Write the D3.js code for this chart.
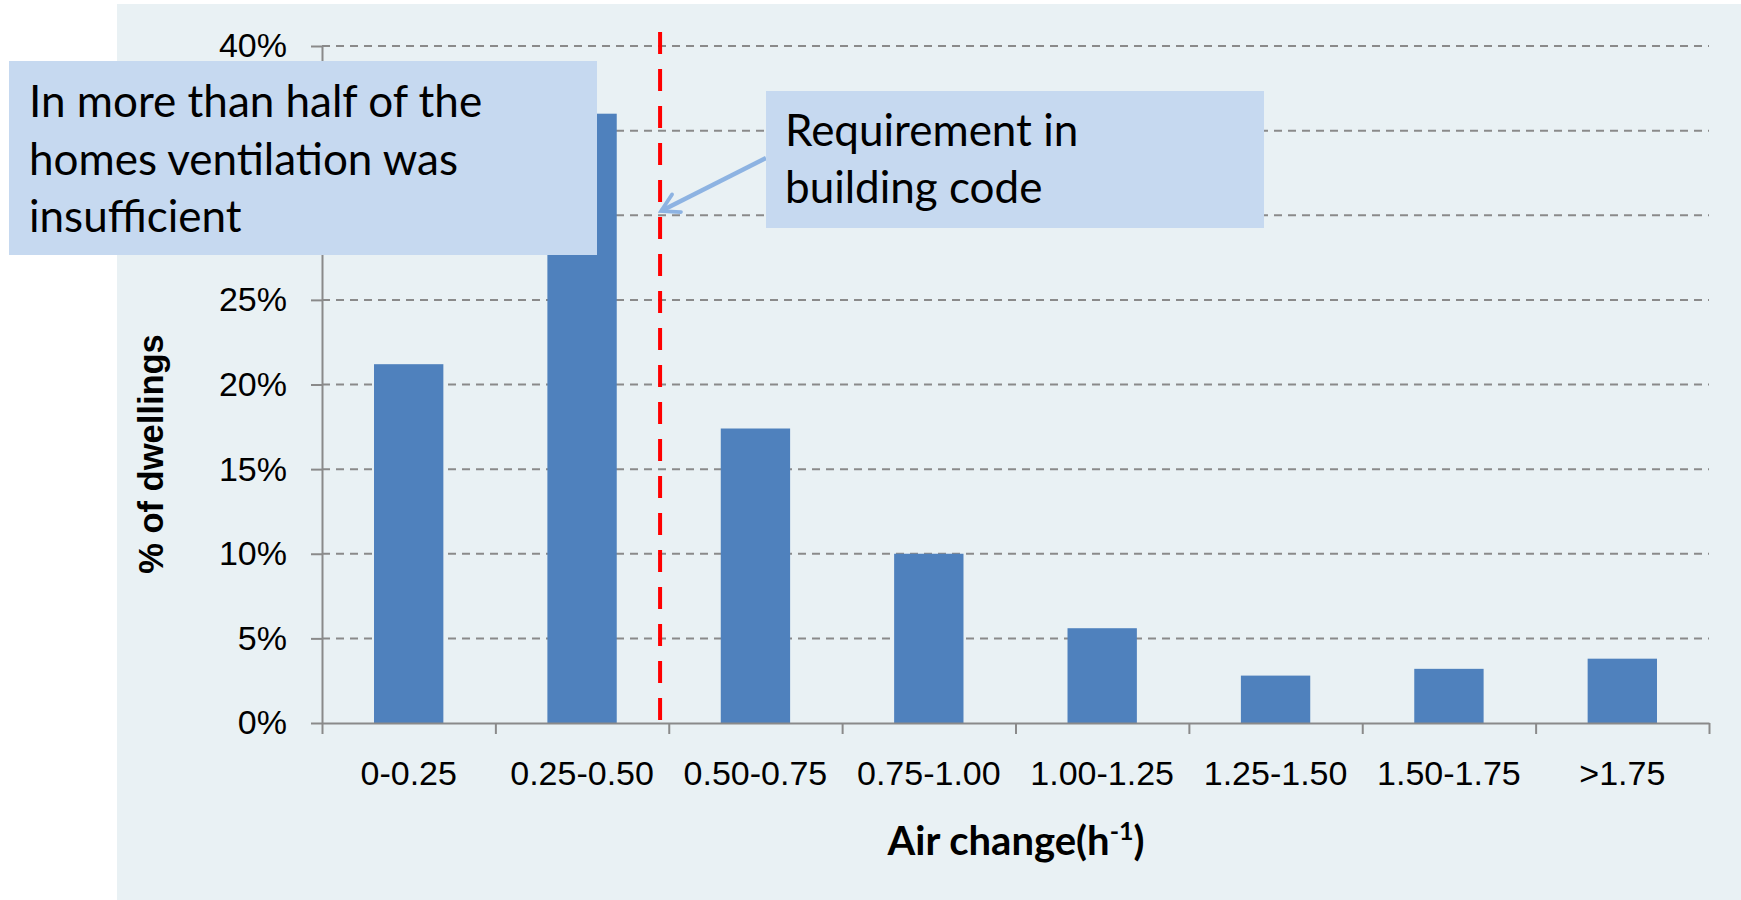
<!DOCTYPE html>
<html>
<head>
<meta charset="utf-8">
<script src="https://cdn.jsdelivr.net/npm/d3@7"></script>
<style>
  body { margin: 0; background: #ffffff; }
  svg { display: block; }
</style>
</head>
<body>
<script>
const width = 1741;
const height = 900;

// data
const categories = ["0-0.25", "0.25-0.50", "0.50-0.75", "0.75-1.00", "1.00-1.25", "1.25-1.50", "1.50-1.75", ">1.75"];
const shares = [21.2, 36.0, 17.4, 10.0, 5.6, 2.8, 3.2, 3.8];
const yTicks = [0, 5, 10, 15, 20, 25, 30, 35, 40];
const requirementBin = 1.95; // where the dashed red line sits, in bins along x

const noteLeft = ["In more than half of the", "homes ventilation was", "insufficient"];
const noteRight = ["Requirement in", "building code"];

// plot area
const plotLeft = 322, plotRight = 1709, plotTop = 46, plotBottom = 723;

const svg = d3.select("body").append("svg")
    .attr("width", width)
    .attr("height", height);

// panel background
svg.append("rect")
    .attr("x", 117).attr("y", 4)
    .attr("width", width - 117).attr("height", height - 4)
    .attr("fill", "#e9f1f4");

const x = d3.scaleBand()
    .domain(categories)
    .range([plotLeft, plotRight])
    .paddingInner(0.6)
    .paddingOuter(0.3);

const xBins = d3.scaleLinear()
    .domain([0, categories.length])
    .range([plotLeft, plotRight]);

const y = d3.scaleLinear()
    .domain([0, 40])
    .range([plotBottom, plotTop]);

// gridlines
svg.append("g")
    .selectAll("line")
    .data(yTicks.filter(d => d > 0))
    .join("line")
    .attr("x1", plotLeft)
    .attr("x2", plotRight)
    .attr("y1", d => y(d))
    .attr("y2", d => y(d))
    .attr("stroke", "#8a8a8a")
    .attr("stroke-width", 2)
    .attr("stroke-dasharray", "8,6");

// y axis
const yAxis = svg.append("g")
    .attr("transform", `translate(${plotLeft},0)`)
    .call(d3.axisLeft(y).tickValues(yTicks).tickFormat(d => d + "%").tickSize(11).tickPadding(24).tickSizeOuter(0));
yAxis.select(".domain").attr("stroke", "#8a8a8a").attr("stroke-width", 2);
yAxis.selectAll(".tick line").attr("stroke", "#8a8a8a").attr("stroke-width", 2);
yAxis.selectAll(".tick text")
    .attr("font-family", "'Liberation Sans', Arial, sans-serif")
    .attr("font-size", 34)
    .attr("fill", "#000");

// bars
svg.append("g")
    .selectAll("rect")
    .data(categories)
    .join("rect")
    .attr("x", d => x(d))
    .attr("width", x.bandwidth())
    .attr("y", (d, i) => y(shares[i]))
    .attr("height", (d, i) => y(0) - y(shares[i]))
    .attr("fill", "#4f81bd");

// x axis: ticks on the bin edges
const xAxis = svg.append("g")
    .attr("transform", `translate(0,${plotBottom})`)
    .call(d3.axisBottom(xBins).tickValues(d3.range(categories.length + 1)).tickFormat("").tickSize(11).tickSizeOuter(0));
xAxis.select(".domain").attr("stroke", "#8a8a8a").attr("stroke-width", 2);
xAxis.selectAll(".tick line").attr("stroke", "#8a8a8a").attr("stroke-width", 2);

// x labels
const xLabels = svg.append("g")
    .attr("transform", `translate(0,${plotBottom})`)
    .call(d3.axisBottom(x).tickSize(0).tickPadding(38));
xLabels.select(".domain").remove();
xLabels.selectAll(".tick text")
    .attr("font-family", "'Liberation Sans', Arial, sans-serif")
    .attr("font-size", 34)
    .attr("fill", "#000");

// requirement line
svg.append("line")
    .attr("x1", xBins(requirementBin))
    .attr("x2", xBins(requirementBin))
    .attr("y1", 32)
    .attr("y2", plotBottom + 3)
    .attr("stroke", "#ff0000")
    .attr("stroke-width", 4)
    .attr("stroke-dasharray", "22,15");

// axis titles
svg.append("text")
    .attr("transform", `translate(163,454) rotate(-90)`)
    .attr("text-anchor", "middle")
    .attr("font-family", "'Liberation Sans', Arial, sans-serif")
    .attr("font-weight", "bold")
    .attr("font-size", 34.5)
    .text("% of dwellings");

const xt = svg.append("text")
    .attr("x", 1016)
    .attr("y", 855)
    .attr("text-anchor", "middle")
    .attr("font-family", "Lato, 'Open Sans', sans-serif")
    .attr("font-weight", "bold")
    .attr("font-size", 40);
xt.append("tspan").text("Air change(h");
xt.append("tspan").attr("font-size", 25).attr("dy", -15).text("-1");
xt.append("tspan").attr("dy", 15).text(")");

// left note
svg.append("rect")
    .attr("x", 9).attr("y", 61)
    .attr("width", 588).attr("height", 194)
    .attr("fill", "#c6d9f0");
svg.append("g")
    .selectAll("text")
    .data(noteLeft)
    .join("text")
    .attr("x", 29)
    .attr("y", (d, i) => 117 + i * 57.5)
    .attr("font-family", "Lato, 'Open Sans', sans-serif")
    .attr("font-size", 44)
    .attr("fill", "#000")
    .text(d => d);

// arrow from right note to the requirement line
svg.append("defs").append("marker")
    .attr("id", "head")
    .attr("viewBox", "0 0 10 10")
    .attr("refX", 8.5).attr("refY", 5)
    .attr("markerWidth", 5.5).attr("markerHeight", 5.5)
    .attr("orient", "auto")
    .append("path")
    .attr("d", "M1.5,1 L8.5,5 L1.5,9")
    .attr("fill", "none")
    .attr("stroke", "#8db3e2")
    .attr("stroke-width", 1.5)
    .attr("stroke-linecap", "round");

svg.append("line")
    .attr("x1", 766).attr("y1", 158)
    .attr("x2", xBins(requirementBin) + 1).attr("y2", 211)
    .attr("stroke", "#8db3e2")
    .attr("stroke-width", 4.5)
    .attr("marker-end", "url(#head)");

// right note
svg.append("rect")
    .attr("x", 766).attr("y", 91)
    .attr("width", 498).attr("height", 137)
    .attr("fill", "#c6d9f0");
svg.append("g")
    .selectAll("text")
    .data(noteRight)
    .join("text")
    .attr("x", 785)
    .attr("y", (d, i) => 146 + i * 57)
    .attr("font-family", "Lato, 'Open Sans', sans-serif")
    .attr("font-size", 44)
    .attr("fill", "#000")
    .text(d => d);
</script>
</body>
</html>
